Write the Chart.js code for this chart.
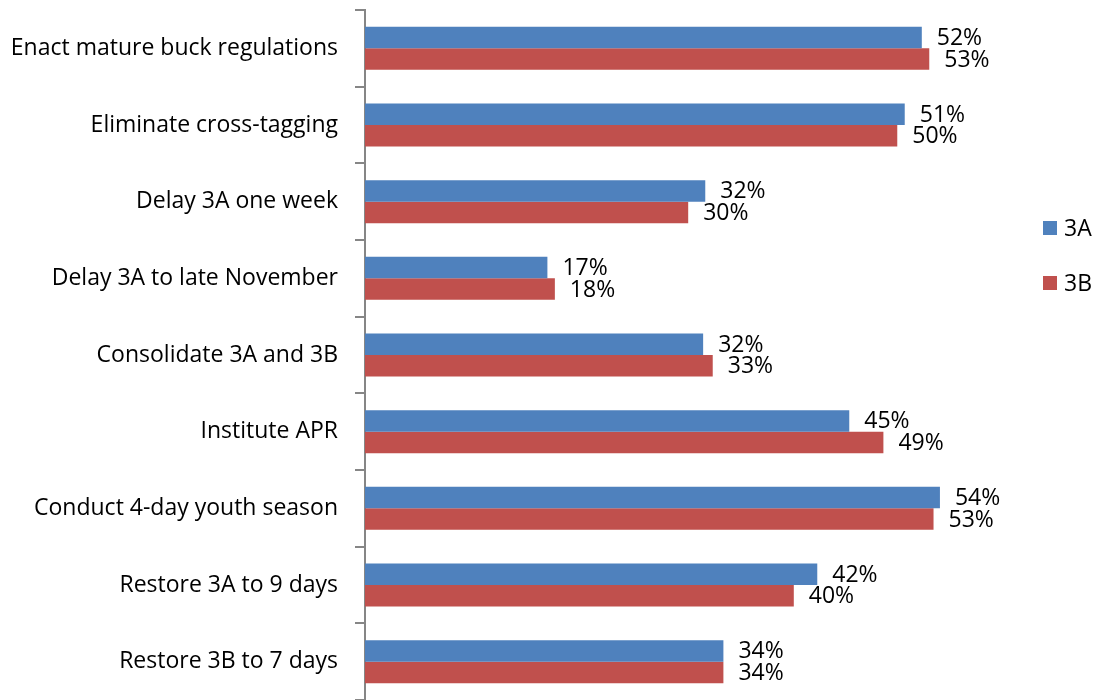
<!DOCTYPE html>
<html><head><meta charset="utf-8">
<script src="https://cdn.jsdelivr.net/npm/chart.js@4/dist/chart.umd.min.js"></script>
<style>html,body{margin:0;padding:0;background:#fff}#wrap{width:1095px;height:700px}</style>
</head><body><div id="wrap"><canvas id="c"></canvas></div>
<script>
const categories = ["Enact mature buck regulations","Eliminate cross-tagging","Delay 3A one week","Delay 3A to late November","Consolidate 3A and 3B","Institute APR","Conduct 4-day youth season","Restore 3A to 9 days","Restore 3B to 7 days"];
const series3A = [52.2,50.6,31.9,17.1,31.7,45.4,53.9,42.4,33.6];
const series3B = [52.9,49.9,30.3,17.8,32.6,48.6,53.3,40.2,33.6];
const seriesNames = ["3A","3B"];
const FONT = "'Open Sans', sans-serif";

const labelPlugin = {
  id:'labels',
  afterDatasetsDraw(chart){
    const ctx = chart.ctx;
    ctx.save();
    ctx.font = "23px " + FONT;
    ctx.fillStyle = "#000";
    ctx.textBaseline = "middle";
    ctx.textAlign = "left";
    chart.data.datasets.forEach((ds,i)=>{
      chart.getDatasetMeta(i).data.forEach((bar,j)=>{
        ctx.fillText(Math.round(ds.data[j])+"%", bar.x+15, bar.y+1);
      });
    });
    // legend
    const yc = [228,283];
    chart.data.datasets.forEach((ds,i)=>{
      ctx.fillStyle = ds.backgroundColor;
      ctx.fillRect(1043, yc[i]-7, 14, 14);
      ctx.fillStyle = "#000";
      ctx.fillText(ds.label, 1064, yc[i]+1);
    });
    ctx.restore();
  }
};

new Chart(document.getElementById('c'),{
  type:'bar',
  data:{labels:categories,datasets:[
    {label:seriesNames[0],data:series3A,backgroundColor:'#4F81BD',borderColor:'#4F81BD',borderWidth:0},
    {label:seriesNames[1],data:series3B,backgroundColor:'#C0504D',borderColor:'#C0504D',borderWidth:0}
  ]},
  options:{
    indexAxis:'y',responsive:true,maintainAspectRatio:false,animation:false,
    categoryPercentage:0.56,barPercentage:1.0,
    layout:{padding:{top:10,bottom:0,left:0,right:90}},
    plugins:{legend:{display:false},tooltip:{enabled:false}},
    scales:{
      x:{display:false,min:0,max:60},
      y:{
        afterFit(s){s.width=365;s.paddingTop=0;s.paddingBottom=0;},
        border:{color:'#868686',width:2},
        grid:{drawOnChartArea:false,drawTicks:true,tickLength:10,color:'#868686',lineWidth:2,offset:true},
        ticks:{padding:17,color:'#000',font:{family:FONT,size:23}}
      }
    }
  },
  plugins:[labelPlugin]
});
</script></body></html>
